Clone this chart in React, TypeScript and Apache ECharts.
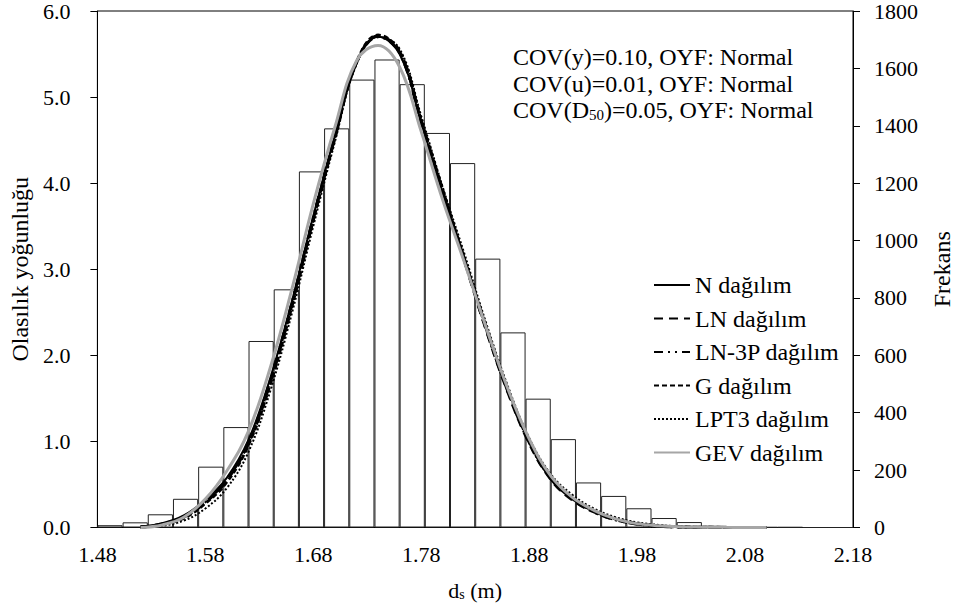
import React, { useEffect, useRef } from "react";
import * as echarts from "echarts";

const FONT = "Liberation Serif";

// x-axis tick labels
const xTicks = [1.48, 1.58, 1.68, 1.78, 1.88, 1.98, 2.08, 2.18];

// histogram bins (30 bins from 1.48 to 2.18) and frequencies
const binLabels = [
  "1.480", "1.503", "1.527", "1.550", "1.573", "1.597", "1.620", "1.643", "1.667", "1.690",
  "1.713", "1.737", "1.760", "1.783", "1.807", "1.830", "1.853", "1.877", "1.900", "1.923",
  "1.947", "1.970", "1.993", "2.017", "2.040", "2.063", "2.087", "2.110", "2.133", "2.157",
];
const frequency = [
  8, 18, 46, 100, 212, 350, 650, 830, 1241, 1391,
  1561, 1631, 1545, 1375, 1270, 937, 680, 449, 308, 157,
  110, 67, 33, 19, 6, 3, 1, 1, 0, 0,
];

// curve x values
const curveX = [
  1.52, 1.54, 1.56, 1.58, 1.6, 1.62, 1.64, 1.66, 1.68, 1.7,
  1.72, 1.74, 1.76, 1.78, 1.8, 1.82, 1.84, 1.86, 1.88, 1.9,
  1.92, 1.94, 1.96, 1.98, 2.0, 2.02, 2.04, 2.06, 2.08, 2.1,
];
const nPdf = [
  0.01, 0.05, 0.14, 0.32, 0.58, 1.02, 1.73, 2.62, 3.62, 4.55,
  5.4, 5.7, 5.5, 4.7, 3.89, 3.13, 2.35, 1.61, 1.0, 0.56,
  0.33, 0.19, 0.1, 0.045, 0.018, 0.008, 0.003, 0.001, 0.0005, 0,
];
const lnPdf = [
  0.005, 0.04, 0.12, 0.29, 0.55, 0.98, 1.68, 2.58, 3.58, 4.53,
  5.4, 5.71, 5.52, 4.72, 3.9, 3.1, 2.3, 1.58, 0.98, 0.56,
  0.32, 0.18, 0.09, 0.04, 0.016, 0.006, 0.002, 0.001, 0, 0,
];
const ln3pPdf = [
  0.005, 0.04, 0.13, 0.3, 0.56, 0.99, 1.7, 2.6, 3.6, 4.54,
  5.4, 5.7, 5.51, 4.7, 3.89, 3.1, 2.31, 1.59, 0.99, 0.57,
  0.33, 0.18, 0.09, 0.04, 0.016, 0.006, 0.002, 0.001, 0, 0,
];
const gPdf = [
  0.004, 0.035, 0.11, 0.28, 0.53, 0.96, 1.66, 2.56, 3.57, 4.52,
  5.4, 5.72, 5.53, 4.73, 3.92, 3.12, 2.32, 1.6, 1.0, 0.58,
  0.34, 0.19, 0.1, 0.045, 0.018, 0.007, 0.003, 0.001, 0, 0,
];
const lpt3Pdf = [
  0, 0.02, 0.08, 0.22, 0.46, 0.88, 1.58, 2.48, 3.5, 4.48,
  5.38, 5.7, 5.56, 4.78, 3.95, 3.18, 2.38, 1.65, 1.04, 0.62,
  0.38, 0.22, 0.12, 0.06, 0.03, 0.012, 0.005, 0.002, 0.001, 0,
];
const gevPdf = [
  0, 0.03, 0.12, 0.33, 0.66, 1.12, 1.85, 2.76, 3.76, 4.65,
  5.42, 5.6, 5.35, 4.6, 3.8, 3.08, 2.33, 1.62, 1.03, 0.6,
  0.35, 0.2, 0.1, 0.045, 0.02, 0.008, 0.004, 0.002, 0.001, 0,
];

const annotations = [
  "COV(y)=0.10, OYF: Normal",
  "COV(u)=0.01, OYF: Normal",
  "COV(D{sub|50})=0.05, OYF: Normal",
];

const pair = (ys: number[]) => curveX.map((x, i) => [x, ys[i]]);

export default function App() {
  const ref = useRef<HTMLDivElement>(null);
  useEffect(() => {
    if (!ref.current) return;
    const chart = echarts.init(ref.current, null, { renderer: "svg" });
    const txt = { fontFamily: FONT, color: "#000", fontSize: 22 };
    const title = { fontFamily: FONT, color: "#000", fontSize: 24 };
    const lineSeries = (name: string, data: number[], color: string, width: number, type: any) => ({
      name,
      type: "line",
      xAxisIndex: 0,
      yAxisIndex: 0,
      symbol: "none",
      smooth: 0.4,
      data: pair(data),
      lineStyle: { color, width, type },
      itemStyle: { color },
      z: 3,
    });
    chart.setOption({
      animation: false,
      backgroundColor: "#fff",
      grid: {
        left: 97,
        right: 105,
        top: 10,
        bottom: 81.5,
        show: true,
        borderColor: "#000",
        borderWidth: 1,
        backgroundColor: "transparent",
      },
      legend: {
        orient: "vertical",
        left: 648,
        top: 268,
        itemWidth: 36,
        itemHeight: 14,
        itemGap: 9.5,
        itemStyle: { opacity: 0 },
        textStyle: { fontFamily: FONT, fontSize: 24, color: "#000", lineHeight: 24 },
        data: ["N dağılım", "LN dağılım", "LN-3P dağılım", "G dağılım", "LPT3 dağılım", "GEV dağılım"],
      },
      xAxis: [
        {
          type: "value",
          min: 1.48,
          max: 2.18,
          position: "bottom",
          axisLine: { lineStyle: { color: "#000", width: 1 } },
          axisTick: { show: false },
          splitLine: { show: false },
          axisLabel: {
            ...txt,
            margin: 16,
            customValues: xTicks,
            formatter: (v: number) => v.toFixed(2),
          },
          name: "d{sub|s} (m)",
          nameLocation: "middle",
          nameGap: 51,
          nameTextStyle: {
            ...txt,
            rich: {
              sub: { fontFamily: FONT, fontSize: 14, color: "#000", verticalAlign: "bottom", padding: [9, 0, 0, 0] },
            },
          },
        },
        {
          type: "category",
          data: binLabels,
          show: false,
          boundaryGap: true,
          position: "bottom",
        },
      ],
      yAxis: [
        {
          type: "value",
          min: 0,
          max: 6,
          interval: 1,
          position: "left",
          axisLine: { show: true, lineStyle: { color: "#000" } },
          axisTick: { show: true, length: 7, lineStyle: { color: "#000" } },
          splitLine: { show: false },
          axisLabel: { ...txt, margin: 27, formatter: (v: number) => v.toFixed(1) },
          name: "Olasılık yoğunluğu",
          nameLocation: "middle",
          nameGap: 64,
          nameRotate: 90,
          nameTextStyle: title,
        },
        {
          type: "value",
          min: 0,
          max: 1800,
          interval: 200,
          position: "right",
          axisLine: { show: true, lineStyle: { color: "#000" } },
          axisTick: { show: true, length: 7, lineStyle: { color: "#000" } },
          splitLine: { show: false },
          axisLabel: { ...txt, margin: 21, formatter: (v: number) => String(v) },
          name: "Frekans",
          nameLocation: "middle",
          nameGap: 77,
          nameRotate: 90,
          nameTextStyle: title,
        },
      ],
      series: [
        {
          name: "Frekans",
          type: "bar",
          xAxisIndex: 1,
          yAxisIndex: 1,
          data: frequency,
          barWidth: "100%",
          barCategoryGap: "0%",
          itemStyle: { color: "#fff", borderColor: "#222", borderWidth: 1 },
          silent: true,
          z: 1,
        },
        lineSeries("N dağılım", nPdf, "#000", 2, "solid"),
        lineSeries("LN dağılım", lnPdf, "#000", 3, [9, 6]),
        lineSeries("LN-3P dağılım", ln3pPdf, "#000", 3, [9, 5, 2, 5, 2, 5]),
        lineSeries("G dağılım", gPdf, "#000", 3, [5, 3]),
        lineSeries("LPT3 dağılım", lpt3Pdf, "#000", 2, [2, 2]),
        lineSeries("GEV dağılım", gevPdf, "#a6a6a6", 3, "solid"),
      ],
      graphic: annotations.map((t, i) => ({
        type: "text",
        x: 513,
        y: 57 + i * 26.7,
        z: 10,
        style: {
          text: t,
          fontFamily: FONT,
          fontSize: 24,
          fill: "#000",
          verticalAlign: "middle",
          rich: {
            sub: { fontFamily: FONT, fontSize: 15, fill: "#000", verticalAlign: "bottom", padding: [10, 0, 0, 0] },
          },
        },
      })),
    });
    return () => chart.dispose();
  }, []);
  return (
    <div
      ref={ref}
      style={{ position: "fixed", left: 0, top: 0, width: 962, height: 609, background: "#fff" }}
    />
  );
}
